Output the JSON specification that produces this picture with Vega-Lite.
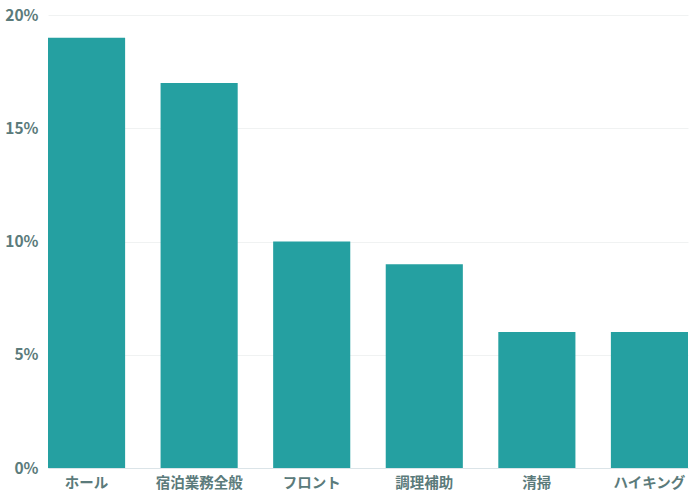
{
  "$schema": "https://vega.github.io/schema/vega-lite/v6.json",
  "width": 640,
  "height": 453,
  "autosize": "none",
  "padding": {"left": 48, "top": 15, "right": 7, "bottom": 32},
  "data": {
    "values": [
      {"job": "ホール", "share": 0.19},
      {"job": "宿泊業務全般", "share": 0.17},
      {"job": "フロント", "share": 0.10},
      {"job": "調理補助", "share": 0.09},
      {"job": "清掃", "share": 0.06},
      {"job": "ハイキング", "share": 0.06}
    ]
  },
  "mark": {"type": "bar", "color": "#25a0a1"},
  "encoding": {
    "x": {
      "field": "job",
      "type": "nominal",
      "sort": null,
      "title": null,
      "scale": {"paddingInner": 0.315, "paddingOuter": 0},
      "axis": {
        "labelAngle": 0,
        "ticks": false,
        "labelPadding": 8,
        "domainColor": "#dbe4e8",
        "labelFontSize": 14.5
      }
    },
    "y": {
      "field": "share",
      "type": "quantitative",
      "title": null,
      "scale": {"domain": [0, 0.2]},
      "axis": {
        "format": ".0%",
        "values": [0, 0.05, 0.1, 0.15, 0.2],
        "ticks": false,
        "domain": false,
        "labelPadding": 10,
        "gridColor": "#f0f2f2",
        "labelFontSize": 15.5
      }
    }
  },
  "config": {
    "view": {"stroke": null},
    "font": "Noto Sans CJK JP",
    "axis": {
      "labelFont": "Noto Sans CJK JP",
      "labelFontWeight": "bold",
      "labelColor": "#5b7b7b"
    }
  }
}
